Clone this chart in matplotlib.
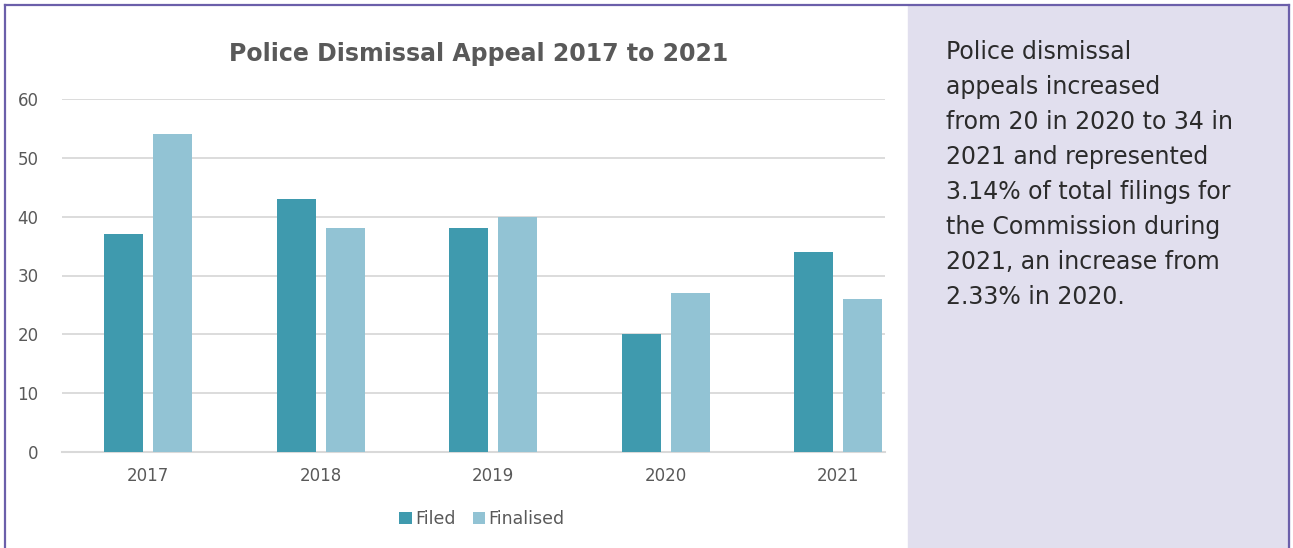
import matplotlib.pyplot as plt
from matplotlib.lines import Line2D
from matplotlib.patches import Rectangle
import numpy as np

years = ['2017', '2018', '2019', '2020', '2021']
filed = [37, 43, 38, 20, 34]
finalised = [54, 38, 40, 27, 26]

summary = ("Police dismissal\nappeals increased\nfrom 20 in 2020 to 34 in\n"
           "2021 and represented\n3.14% of total filings for\n"
           "the Commission during\n2021, an increase from\n2.33% in 2020.")

c_filed = '#3F9AAE'
c_final = '#92C3D4'
grey = '#595959'
plt.rcParams['font.family'] = 'DejaVu Sans'

W, H = 1293, 548
fig = plt.figure(figsize=(W / 100, H / 100), dpi=100)

# side panel and outer frame
fig.patches.append(Rectangle((908 / W, 0), (1289 - 908) / W, (H - 5) / H,
                             transform=fig.transFigure, color='#E1DFEE', zorder=0))
frame = dict(transform=fig.transFigure, color='#6B5FAA', lw=1.6)
fig.add_artist(Line2D([5 / W, 1289 / W], [1 - 5 / H, 1 - 5 / H], **frame))
fig.add_artist(Line2D([5 / W, 5 / W], [0, 1 - 5 / H], **frame))
fig.add_artist(Line2D([1289 / W, 1289 / W], [0, 1 - 5 / H], **frame))

ax = fig.add_axes([62 / W, (H - 452) / H, (885 - 62) / W, (452 - 99) / H])
x = np.arange(len(years))
w = 0.226
ax.bar(x - 0.142, filed, w, color=c_filed, label='Filed', zorder=3)
ax.bar(x + 0.142, finalised, w, color=c_final, label='Finalised', zorder=3)

ax.set_xlim(-0.5, 4.27)
ax.set_ylim(0, 60)
ax.set_yticks(range(0, 61, 10))
ax.set_xticks(x, years)
ax.grid(axis='y', color='#D9D9D9', lw=1.3, zorder=0)
for s in ['top', 'right', 'left']:
    ax.spines[s].set_visible(False)
ax.spines['bottom'].set_color('#D9D9D9')
ax.spines['bottom'].set_linewidth(1.5)
ax.tick_params(length=0, labelsize=12, labelcolor=grey)
ax.tick_params(axis='y', pad=17)
ax.tick_params(axis='x', pad=11)

fig.text(479 / W, 1 - 54 / H, 'Police Dismissal Appeal 2017 to 2021',
         ha='center', va='center', fontsize=17, fontweight='bold', color=grey)

ax.legend(loc='center', bbox_to_anchor=(482 / W, 1 - 519 / H),
          bbox_transform=fig.transFigure, ncol=2, frameon=False,
          fontsize=12.5, labelcolor=grey, handlelength=0.7, handleheight=0.7,
          handletextpad=0.2, columnspacing=1.0)

fig.text(946 / W, 1 - 40 / H, summary, ha='left', va='top',
         fontsize=17, color='#2B2B2B', linespacing=1.58)

fig.savefig('out.png', dpi=100)
